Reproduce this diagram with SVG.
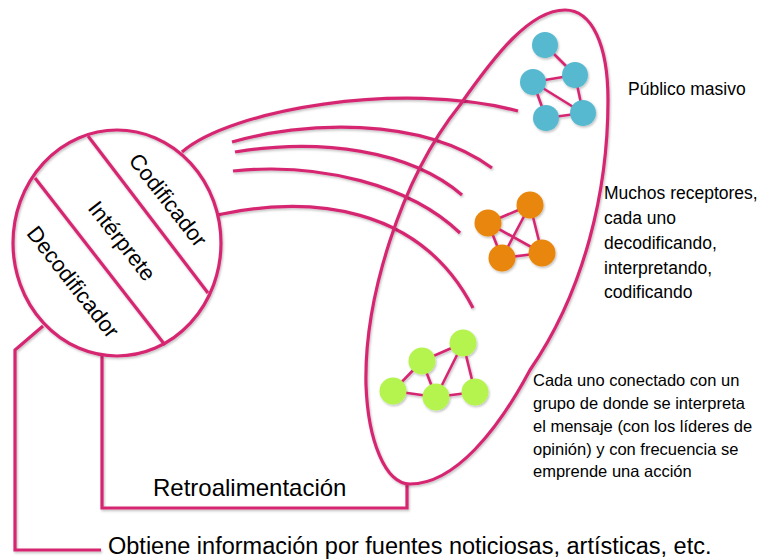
<svg xmlns="http://www.w3.org/2000/svg" width="764" height="560" viewBox="0 0 764 560">
<defs>
<filter id="sh" x="-20%" y="-20%" width="140%" height="140%">
<feDropShadow dx="1" dy="1.5" stdDeviation="1" flood-color="#000" flood-opacity="0.25"/>
</filter>
</defs>
<style>
.ln{fill:none;stroke:#D62872;stroke-width:3.2;stroke-linecap:butt;stroke-linejoin:miter}
.ed{stroke:#D62872;stroke-width:2.6}
.bl{fill:#56B9D0}
.or{fill:#E8860C}
.gr{fill:#B5F34F}
.t{font-family:"Liberation Sans",Arial,sans-serif;fill:#000}
</style>
<rect width="764" height="560" fill="#fff"/>

<g id="connectors" filter="url(#sh)">
<path class="ln" d="M182,152 C230,110 400,80 518,111"/>
<path class="ln" d="M232,142 C300,122 420,115 492,168"/>
<path class="ln" d="M235,152 C320,138 410,150 462,195"/>
<path class="ln" d="M233,171 C320,162 410,185 460,233"/>
<path class="ln" d="M217,215 C310,195 420,205 473,308"/>
<path class="ln" d="M102,356 L102,508 L407,508 L407,483"/>
<path class="ln" d="M43,326 L15,350 L15,550 L101,550"/>
</g>

<g id="audience" filter="url(#sh)">
<path class="ln" d="M565,10 C592,10 608,45 608,100 C608,190 585,290 530,370 C498,430 455,484 410,484 C385,484 368,440 366,385 C364,300 400,180 460,105 C495,55 530,10 565,10 Z"/>
</g>

<g id="communicator" filter="url(#sh)">
<ellipse class="ln" cx="117" cy="243" rx="104" ry="113" fill="#fff"/>
<line class="ln" x1="88" y1="136" x2="208" y2="293"/>
<line class="ln" x1="35" y1="178" x2="165" y2="345"/>
</g>
<g id="communicator-labels">
<text class="t" font-size="22" text-anchor="middle" dominant-baseline="central" transform="translate(168,200) rotate(52)">Codificador</text>
<text class="t" font-size="22" text-anchor="middle" dominant-baseline="central" transform="translate(122,241) rotate(52)">Intérprete</text>
<text class="t" font-size="22" text-anchor="middle" dominant-baseline="central" transform="translate(73,282) rotate(52)">Decodificador</text>
</g>

<g id="blue-group" filter="url(#sh)">
<line class="ed" x1="545" y1="45" x2="575" y2="75"/>
<line class="ed" x1="575" y1="75" x2="533" y2="82"/>
<line class="ed" x1="533" y1="82" x2="583" y2="113"/>
<line class="ed" x1="575" y1="75" x2="583" y2="113"/>
<line class="ed" x1="533" y1="82" x2="546" y2="118"/>
<line class="ed" x1="546" y1="118" x2="583" y2="113"/>
<circle class="bl" cx="545" cy="45" r="13"/>
<circle class="bl" cx="575" cy="75" r="13"/>
<circle class="bl" cx="533" cy="82" r="13"/>
<circle class="bl" cx="546" cy="118" r="13"/>
<circle class="bl" cx="583" cy="113" r="13"/>
</g>

<g id="orange-group" filter="url(#sh)">
<line class="ed" x1="488" y1="223" x2="530" y2="205"/>
<line class="ed" x1="488" y1="223" x2="542" y2="253"/>
<line class="ed" x1="488" y1="223" x2="502" y2="258"/>
<line class="ed" x1="530" y1="205" x2="502" y2="258"/>
<line class="ed" x1="530" y1="205" x2="542" y2="253"/>
<line class="ed" x1="502" y1="258" x2="542" y2="253"/>
<circle class="or" cx="488" cy="223" r="13.5"/>
<circle class="or" cx="530" cy="205" r="13.5"/>
<circle class="or" cx="502" cy="258" r="13.5"/>
<circle class="or" cx="542" cy="253" r="13.5"/>
</g>

<g id="green-group" filter="url(#sh)">
<line class="ed" x1="422" y1="361" x2="463" y2="343"/>
<line class="ed" x1="422" y1="361" x2="393" y2="391"/>
<line class="ed" x1="422" y1="361" x2="436" y2="397"/>
<line class="ed" x1="463" y1="343" x2="436" y2="397"/>
<line class="ed" x1="463" y1="343" x2="475" y2="392"/>
<line class="ed" x1="393" y1="391" x2="436" y2="397"/>
<line class="ed" x1="436" y1="397" x2="475" y2="392"/>
<circle class="gr" cx="422" cy="361" r="13.5"/>
<circle class="gr" cx="463" cy="343" r="13.5"/>
<circle class="gr" cx="393" cy="391" r="13.5"/>
<circle class="gr" cx="436" cy="397" r="13.5"/>
<circle class="gr" cx="475" cy="392" r="13.5"/>
</g>

<g id="label-publico">
<text class="t" font-size="17.5" x="628" y="95">Público masivo</text>
</g>
<g id="label-receptores">
<text class="t" font-size="17.5" x="604">
<tspan x="604" y="199">Muchos receptores,</tspan>
<tspan x="604" y="224">cada uno</tspan>
<tspan x="604" y="249">decodificando,</tspan>
<tspan x="604" y="274">interpretando,</tspan>
<tspan x="604" y="298">codificando</tspan>
</text>
</g>
<g id="label-grupo">
<text class="t" font-size="16.5" x="533">
<tspan x="533" y="386">Cada uno conectado con un</tspan>
<tspan x="533" y="409">grupo de donde se interpreta</tspan>
<tspan x="533" y="432">el mensaje (con los líderes de</tspan>
<tspan x="533" y="455">opinión) y con frecuencia se</tspan>
<tspan x="533" y="477">emprende una acción</tspan>
</text>
</g>
<g id="label-retro">
<text class="t" font-size="24" x="153" y="496">Retroalimentación</text>
</g>
<g id="label-obtiene">
<text class="t" font-size="23.5" x="108" y="554">Obtiene información por fuentes noticiosas, artísticas, etc.</text>
</g>
</svg>
